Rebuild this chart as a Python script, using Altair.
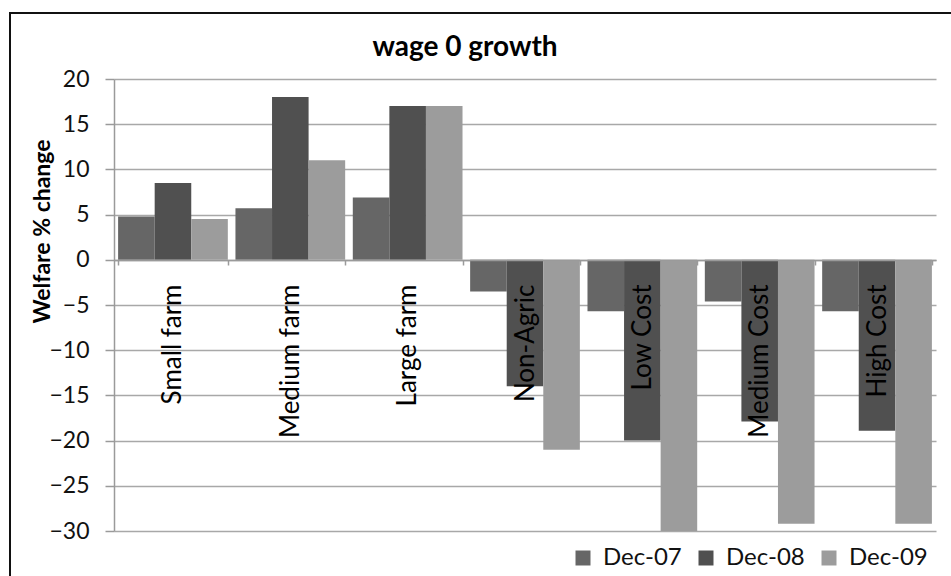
import altair as alt
import pandas as pd

categories = ["Small farm", "Medium farm", "Large farm", "Non-Agric",
              "Low Cost", "Medium Cost", "High Cost"]
series = ["Dec-07", "Dec-08", "Dec-09"]
dec07 = [4.8, 5.7, 6.9, -3.5, -5.7, -4.6, -5.7]
dec08 = [8.5, 18.0, 17.0, -14.0, -20.0, -17.9, -18.9]
dec09 = [4.5, 11.0, 17.0, -21.0, -30.0, -29.2, -29.2]
colors = ["#666666", "#505050", "#9c9c9c"]
y_ticks = [-30, -25, -20, -15, -10, -5, 0, 5, 10, 15, 20]

rows = []
for s, vals in zip(series, [dec07, dec08, dec09]):
    for c, v in zip(categories, vals):
        rows.append({"category": c, "series": s, "value": v})
df = pd.DataFrame(rows)

FONT = "Lato"
W, H = 822, 452

bars = alt.Chart(df).mark_bar().encode(
    x=alt.X("category:N", sort=categories, title=None,
            scale=alt.Scale(paddingInner=0.065, paddingOuter=0.035),
            axis=alt.Axis(orient="bottom", offset=-271, labelAngle=270,
                          labelFontSize=26, labelFont=FONT, labelColor="#000000",
                          labelPadding=19, tickSize=5, tickBand="extent",
                          domainColor="#9a9a9a", tickColor="#9a9a9a",
                          domainWidth=1.5, tickWidth=1.5, grid=False, zindex=1)),
    xOffset=alt.XOffset("series:N", sort=series),
    y=alt.Y("value:Q", scale=alt.Scale(domain=[-30, 20], nice=False),
            axis=alt.Axis(values=y_ticks, title="Welfare % change",
                          titleFont=FONT, titleFontSize=23, titleFontWeight="bold",
                          titleColor="#000000", titleAngle=270, titleX=-72, titleY=152,
                          titleAlign="center", titleBaseline="middle",
                          labelFont=FONT, labelFontSize=23, labelColor="#111111",
                          labelPadding=16, tickSize=9, tickColor="#9a9a9a", tickWidth=1.5,
                          domainColor="#9a9a9a", domainWidth=1.5,
                          gridColor="#a8a8a8", gridWidth=1.5)),
    color=alt.Color("series:N", scale=alt.Scale(domain=series, range=colors),
                    legend=alt.Legend(title=None, orient="none", direction="horizontal",
                                      legendX=457, legendY=467, symbolType="square",
                                      symbolSize=225, symbolStrokeWidth=0,
                                      labelFont=FONT, labelFontSize=24,
                                      labelColor="#111111", labelOffset=8,
                                      columnPadding=12, padding=0)),
)

border = alt.Chart(pd.DataFrame({"a": [0]})).mark_rect(
    fillOpacity=0, stroke="#111111", strokeWidth=2
).encode(
    x=alt.value(-104), x2=alt.value(W + 40),
    y=alt.value(-66), y2=alt.value(H + 60),
)

chart = alt.layer(bars, border).properties(
    width=W, height=H,
    autosize=alt.AutoSizeParams(type="none"),
    padding={"left": 114, "top": 79, "right": 15, "bottom": 45},
    title=alt.TitleParams("wage 0 growth", font=FONT, fontSize=28, fontWeight="bold",
                          color="#000000", anchor="middle", frame="group",
                          dx=-60, offset=-50),
).configure_view(stroke="transparent")

chart.save("out.html", embed_options={"renderer": "svg", "actions": False})
